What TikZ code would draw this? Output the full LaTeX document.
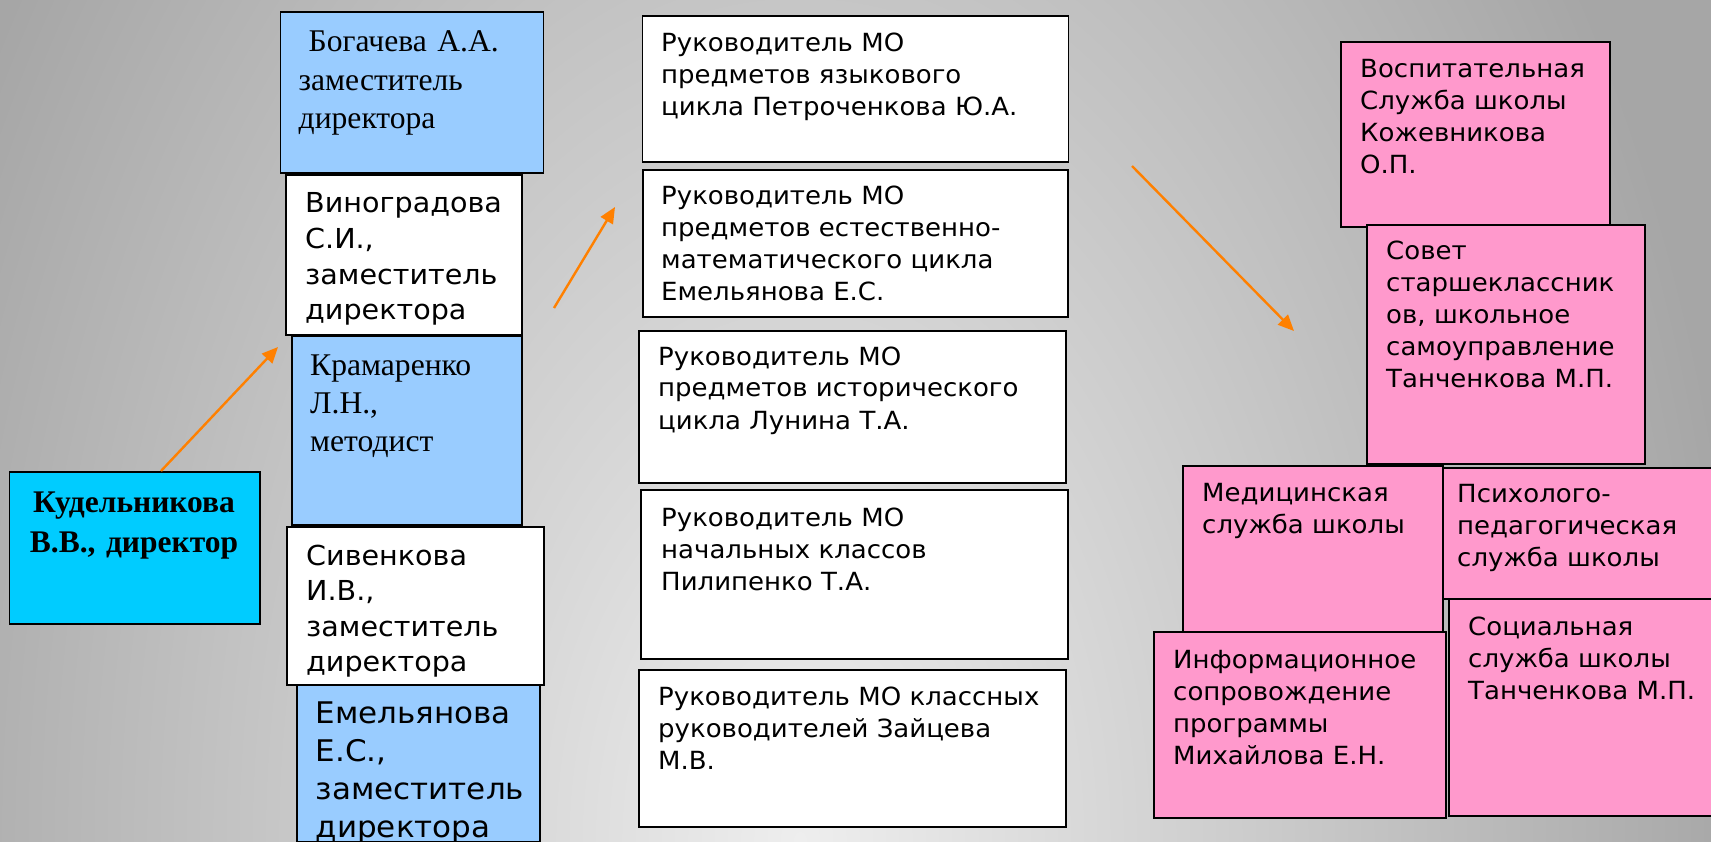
\documentclass[tikz,border=0pt]{standalone}
\usepackage{fontspec}
\setmainfont{Liberation Serif}
\newfontfamily\vsans[FakeStretch=1.04]{DejaVu Sans}
\usetikzlibrary{arrows.meta,calc}
\definecolor{lblue}{HTML}{99CCFF}
\definecolor{dcyan}{HTML}{00CCFF}
\definecolor{pinkbox}{HTML}{FF99CC}
\definecolor{arrorange}{HTML}{FF8000}
\definecolor{bglight}{HTML}{EEEEEE}
\definecolor{bgdark}{HTML}{A6A6A6}
\pgfdeclareradialshading{bgshade}{\pgfpoint{0bp}{0bp}}{color(0bp)=(bglight); color(25bp)=(bgdark); color(50bp)=(bgdark)}
\tikzset{
  box/.style={draw=black, line width=1.6pt, inner sep=0pt, anchor=north west},
  txt/.style={inner sep=0pt, anchor=base west, text width=420pt, align=left},
  sansA/.style={txt, font=\vsans\fontsize{25}{32}\selectfont},
  sansB/.style={txt, font=\vsans\fontsize{27.5}{35.6}\selectfont},
  sansC/.style={txt, font=\vsans\fontsize{29.8}{38}\selectfont},
  serifA/.style={txt, font=\fontsize{31.6}{38.3}\selectfont},
  conn/.style={draw=arrorange, line width=2.4pt, -{Triangle[length=16pt,width=14pt]}}
}
\begin{document}
\begin{tikzpicture}[x=1pt,y=-1pt]
\useasboundingbox (0,0) rectangle (1711,842);
\begin{scope}
\clip (0,0) rectangle (1711,842);
\shade[shading=bgshade] (-150,-658) rectangle (1750,2342);
\end{scope}

% left column
\node[box, fill=lblue, minimum width=263pt, minimum height=161pt] (bog) at (279.5,11) {};
\node[serifA] (bogT) at (298.5,52) {\hspace*{10pt}Богачева А.А.\\заместитель\\директора};
\node[box, fill=white, minimum width=236pt, minimum height=160pt] (vin) at (285,174) {};
\node[sansB] (vinT) at (305,213) {Виноградова\\С.И.,\\заместитель\\директора};
\node[box, fill=lblue, minimum width=230pt, minimum height=189pt] (kram) at (291,335) {};
\node[serifA] (kramT) at (310,375) {Крамаренко\\Л.Н.,\\методист};
\node[box, fill=white, minimum width=257pt, minimum height=158pt] (siv) at (286,526) {};
\node[sansB] (sivT) at (306,565) {Сивенкова\\И.В.,\\заместитель\\директора};
\node[box, fill=lblue, minimum width=243pt, minimum height=157pt] (eml) at (296,684) {};
\node[sansC] (emlT) at (315.5,723) {Емельянова\\Е.С.,\\заместитель\\директора};

% director
\node[box, fill=dcyan, minimum width=250.5pt, minimum height=152pt] (dir) at (8.5,471) {};
\node[inner sep=0pt, anchor=base, text width=240pt, align=center, font=\bfseries\fontsize{31.5}{40}\selectfont] (dirT) at (134,512) {Кудельникова\\В.В., директор};

% middle column
\node[box, fill=white, minimum width=426pt, minimum height=146pt] (m1) at (641.5,15) {};
\node[sansA] (m1T) at (661,52) {Руководитель МО\\предметов языкового\\цикла Петроченкова Ю.А.};
\node[box, fill=white, minimum width=425pt, minimum height=147pt] (m2) at (642,169) {};
\node[sansA] (m2T) at (661,205) {Руководитель МО\\предметов естественно-\\математического цикла\\Емельянова Е.С.};
\node[box, fill=white, minimum width=427pt, minimum height=152pt] (m3) at (638,330) {};
\node[sansA] (m3T) at (658,365) {Руководитель МО\\предметов исторического\\цикла Лунина Т.А.};
\node[box, fill=white, minimum width=427pt, minimum height=169pt] (m4) at (640,489) {};
\node[sansA] (m4T) at (661,526) {Руководитель МО\\начальных классов\\Пилипенко Т.А.};
\node[box, fill=white, minimum width=427pt, minimum height=157pt] (m5) at (638,669) {};
\node[sansA] (m5T) at (658,705) {Руководитель МО классных\\руководителей Зайцева\\М.В.};

% right column
\node[box, fill=pinkbox, minimum width=269pt, minimum height=185pt] (r1) at (1340,41) {};
\node[sansA] (r1T) at (1360,78) {Воспитательная\\Служба школы\\Кожевникова\\О.П.};
\node[box, fill=pinkbox, minimum width=278pt, minimum height=239pt] (r2) at (1366,224) {};
\node[sansA] (r2T) at (1386,260) {Совет\\старшеклассник\\ов, школьное\\самоуправление\\Танченкова М.П.};
\node[box, fill=pinkbox, minimum width=260pt, minimum height=166pt] (r3) at (1182,465) {};
\node[sansA] (r3T) at (1202,501) {Медицинская\\служба школы};
\node[box, fill=pinkbox, minimum width=290pt, minimum height=131pt] (r4) at (1442,467) {};
\node[sansA] (r4T) at (1457,502) {Психолого-\\педагогическая\\служба школы};
\node[box, fill=pinkbox, minimum width=292pt, minimum height=186pt] (r5) at (1153,631) {};
\node[sansA] (r5T) at (1173,668) {Информационное\\сопровождение\\программы\\Михайлова Е.Н.};
\node[box, fill=pinkbox, minimum width=290pt, minimum height=217pt] (r6) at (1448,598) {};
\node[sansA] (r6T) at (1468,635) {Социальная\\служба школы\\Танченкова М.П.};

% arrows
\coordinate (a1s) at ($(dir.north west)+(152.5,0)$);
\coordinate (a1e) at (278,347);
\coordinate (a2s) at (554,308);
\coordinate (a2e) at (615,207);
\coordinate (a3s) at (1132,166);
\coordinate (a3e) at (1294,331);
\draw[conn] (a1s) -- (a1e);
\draw[conn] (a2s) -- (a2e);
\draw[conn] (a3s) -- (a3e);
\end{tikzpicture}
\end{document}
